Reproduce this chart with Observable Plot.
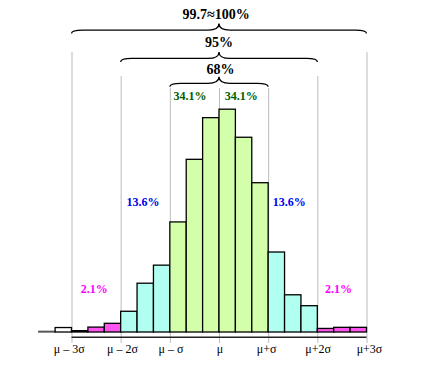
<!DOCTYPE html>
<html><head><meta charset="utf-8">
<script src="https://cdn.jsdelivr.net/npm/d3@7"></script>
<script src="https://cdn.jsdelivr.net/npm/@observablehq/plot@0.6"></script>
<style>body{margin:0;background:#fff}#chart svg{display:block}</style>
</head><body><div id="chart"></div>
<script>
// ---- data ----
// bin starts in thirds of σ (bin k spans [k/3, (k+1)/3] σ from μ)
const binStart = [-11,-10,-9,-8,-7,-6,-5,-4,-3,-2,-1,0,1,2,3,4,5,6,7,8];
const binHeight = [0.3,2.0,0.6,2.2,3.9,9.3,21.9,30.0,49.4,77.5,96.2,100,87.4,67.0,35.9,16.7,11.8,1.6,2.1,2.1];
const binGroup = ["far","far","tail","tail","tail","mid","mid","mid","core","core","core","core","core","core","mid","mid","mid","tail","tail","tail"];
const tickPos = [-3,-2,-1,0,1,2,3];
const tickLabels = ["μ – 3σ","μ – 2σ","μ – σ","μ","μ+σ","μ+2σ","μ+3σ"];
const braceSpan = [3,2,1];
const braceLabels = ["99.7≈100%","95%","68%"];
const bandLabels = ["34.1%","34.1%","13.6%","13.6%","2.1%","2.1%"];
const bandGroup = ["core","core","mid","mid","tail","tail"];

// ---- layout / style ----
const groupFill = {far:"#ffffff", tail:"#ff55ee", mid:"#b0fff0", core:"#d4ffaa"};
const textColor = {core:"#006000", mid:"#0000ee", tail:"#ff00ff"};
const tickDx = [-2.7,1.3,0.7,0.5,-2,0.2,2.5];
const bandX = [-0.6,0.44,-1.555,1.42,-2.55,2.42];
const bandY = [105.9,105.9,58.5,58.5,19.3,19.3];
const braceFlatY = [135.5,122.8,111.6];
const braceLabelX = [-0.07,-0.01,0.02];
const braceLabelY = [142.7,130.2,118.0];
const ruleTopBySpan = {3:125.7, 2:114.9, 1:109.5, 0:109.5};

const bins = binStart.map((b,i)=>({x1:b/3, x2:(b+1)/3, h:binHeight[i], g: b===-11 ? "dark" : binGroup[i]}));
const bands = bandLabels.map((t,i)=>({t, x:bandX[i], y:bandY[i], g:bandGroup[i]}));
const braces = braceSpan.map((s,i)=>({s, label:braceLabels[i], fy:braceFlatY[i], lx:braceLabelX[i], ly:braceLabelY[i]}));

const braceMark = (index, scales) => {
  const g = d3.create("svg:g").attr("fill","none").attr("stroke","#000").attr("stroke-width",1.3);
  for (const b of braces) {
    const xa = scales.x(-b.s), xb = scales.x(b.s), xm = scales.x(0), y = scales.y(b.fy);
    const r = 11, drop = 3.5, rise = 6.5;
    const p = `M${xa},${y+drop} Q${xa},${y} ${xa+r},${y} L${xm-r},${y} Q${xm},${y} ${xm},${y-rise} Q${xm},${y} ${xm+r},${y} L${xb-r},${y} Q${xb},${y} ${xb},${y+drop}`;
    g.append("path").attr("d", p);
  }
  return g.node();
};

const tickTextMarks = tickPos.map((p,i) =>
  Plot.text([tickLabels[i]], {x: ()=>p, y:-7.5, text: d=>d, dx: tickDx[i], fontSize:12, fill:"#000"}));

const chart = Plot.plot({
  width: 440, height: 375,
  marginLeft: 71.5, marginRight: 73.5, marginTop: 0, marginBottom: 43,
  x: {domain: [-3,3], axis: null},
  y: {domain: [0,149], axis: null},
  style: {fontFamily: "'Liberation Serif', 'DejaVu Serif', serif", background: "#fff"},
  marks: [
    Plot.ruleX(tickPos, {x: d=>d, y1: -4.9, y2: d=>ruleTopBySpan[Math.abs(d)], stroke:"#bbbbbb", strokeWidth:1}),
    Plot.rectY(bins, {x1:"x1", x2:"x2", y1:0, y2:"h", fill: d=> d.g==="dark" ? "#555" : groupFill[d.g], stroke: d=> d.g==="dark" ? "#555" : "#000", strokeWidth:1.3}),
    Plot.ruleY([-2.1], {x1:-3, x2:3, stroke:"#222", strokeWidth:1.5}),
    ...tickTextMarks,
    braceMark,
    Plot.text(braces, {x:"lx", y:"ly", text:"label", fontSize:14, fontWeight:"bold", fill:"#000"}),
    Plot.text(bands, {x:"x", y:"y", text:"t", fontSize:12, fontWeight:"bold", fill: d=>textColor[d.g]})
  ]
});
document.getElementById("chart").append(chart);
</script>
</body></html>
